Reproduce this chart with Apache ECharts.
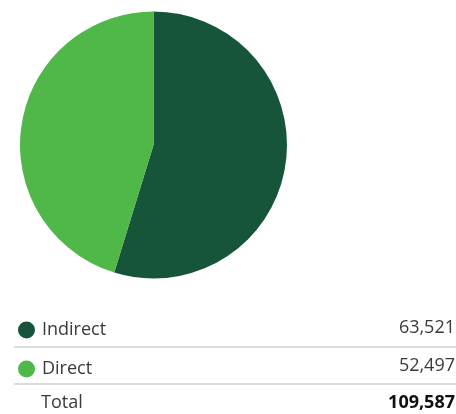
<!DOCTYPE html>
<html>
<head>
<meta charset="utf-8">
<script src="https://cdn.jsdelivr.net/npm/echarts@6/dist/echarts.min.js"></script>
<style>
  html, body { margin: 0; padding: 0; background: #fff; }
  #chart { width: 456px; height: 414px; }
</style>
</head>
<body>
<div id="chart"></div>
<script>
// Emission categories and their values
const categories = ['Indirect', 'Direct'];
const values = [63521, 52497];
const valueLabels = ['63,521', '52,497'];
const totalLabel = 'Total';
const totalValue = '109,587';
const colors = ['#17553a', '#50b848'];

const FONT = '"Open Sans", "Noto Sans", sans-serif';
const TEXT_COLOR = '#3a3a3a';

const chart = echarts.init(document.getElementById('chart'), null, { renderer: 'canvas' });

// Row layout for the table under the pie
const rowY = [328, 366, 403];
const ruleY = [347, 384];

const textStyle = (text, align, bold) => ({
  text: text,
  font: (bold ? 'bold ' : '') + '18px ' + FONT,
  fill: bold ? '#111' : TEXT_COLOR,
  align: align,
  verticalAlign: 'middle'
});

const graphics = [];
valueLabels.forEach((v, i) => {
  graphics.push({ type: 'text', x: 455, y: rowY[i], style: textStyle(v, 'right', false) });
});
ruleY.forEach(y => {
  graphics.push({
    type: 'line', shape: { x1: 14, y1: y, x2: 456, y2: y },
    style: { stroke: '#cfcfcf', lineWidth: 1.5 }
  });
});
graphics.push({ type: 'text', x: 41, y: rowY[2], style: textStyle(totalLabel, 'left', false) });
graphics.push({ type: 'text', x: 455, y: rowY[2], style: textStyle(totalValue, 'right', true) });

chart.setOption({
  animation: false,
  color: colors,
  legend: {
    orient: 'vertical',
    left: 13,
    top: rowY[0] - 12,
    icon: 'circle',
    itemWidth: 17,
    itemHeight: 17,
    itemGap: 21,
    textStyle: { fontFamily: FONT, fontSize: 18, color: TEXT_COLOR, padding: [0, 0, 0, 2] },
    selectedMode: false,
    data: categories
  },
  graphic: graphics,
  series: [{
    type: 'pie',
    center: [153.5, 145],
    radius: [0, 133.5],
    startAngle: 90,
    clockwise: true,
    label: { show: false },
    labelLine: { show: false },
    emphasis: { disabled: true },
    itemStyle: { borderWidth: 0 },
    data: categories.map((c, i) => ({ name: c, value: values[i] }))
  }]
});
</script>
</body>
</html>
